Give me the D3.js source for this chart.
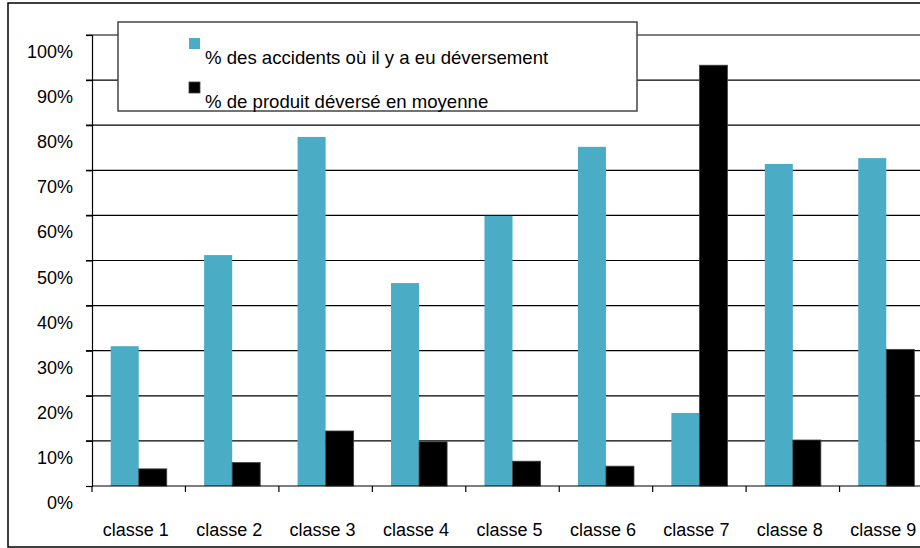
<!DOCTYPE html>
<meta charset="utf-8">
<head>
  <title>Accidents et déversements par classe</title>
  <script src="https://cdn.jsdelivr.net/npm/d3@7"></script>
  <style>
    body { margin: 0; background: #fff; }
    svg text { font-family: "Liberation Sans", Arial, sans-serif; font-size: 18px; fill: #000; }
    .grid line { stroke: #000; stroke-width: 1.2; }
    .legend text { font-size: 18.6px; }
  </style>
</head>
<body>
<div id="chart"></div>
<script>
  // data
  var categories = ["classe 1", "classe 2", "classe 3", "classe 4", "classe 5",
                    "classe 6", "classe 7", "classe 8", "classe 9"];
  var pctAccidents = [31.0, 51.2, 77.4, 45.0, 59.9, 75.2, 16.2, 71.4, 72.7];
  var pctProduit   = [3.8, 5.2, 12.2, 9.8, 5.5, 4.4, 93.3, 10.2, 30.3];
  var seriesNames = ["% des accidents où il y a eu déversement", "% de produit déversé en moyenne"];
  var seriesColors = ["#4bacc6", "#000000"];
  var yTicks = [0, 10, 20, 30, 40, 50, 60, 70, 80, 90, 100];

  var w = 920, h = 548;
  // plot area (right side runs past the window, as in the original)
  var pl = 92, pr = 933, pt = 35, pb = 486;

  var svg = d3.select("#chart").append("svg")
    .attr("width", w).attr("height", h);

  // outer frame
  svg.append("rect")
    .attr("x", 8).attr("y", 3).attr("width", 960).attr("height", 544)
    .attr("fill", "none").attr("stroke", "#000").attr("stroke-width", 1.5);

  var x = d3.scaleBand().domain(categories).range([pl, pr]);
  var y = d3.scaleLinear().domain([0, 100]).range([pb, pt]);
  var barW = x.bandwidth() * 0.3;

  // gridlines
  svg.append("g").attr("class", "grid")
    .selectAll("line").data(yTicks.filter(function(d){ return d > 0; }))
    .enter().append("line")
    .attr("x1", pl - 6).attr("x2", w)
    .attr("y1", function(d){ return y(d); })
    .attr("y2", function(d){ return y(d); });

  // bars
  var rows = categories.map(function(c, i){ return {cat: c, vals: [pctAccidents[i], pctProduit[i]]}; });
  var groups = svg.append("g").selectAll("g").data(rows).enter().append("g");
  groups.selectAll("rect")
    .data(function(d){ return d.vals.map(function(v, j){ return {cat: d.cat, v: v, j: j}; }); })
    .enter().append("rect")
    .attr("x", function(d){ return x(d.cat) + x.bandwidth() / 2 - barW + d.j * barW; })
    .attr("y", function(d){ return y(d.v); })
    .attr("width", barW)
    .attr("height", function(d){ return pb - y(d.v); })
    .attr("fill", function(d){ return seriesColors[d.j]; })
    .attr("stroke", function(d){ return d.j == 1 ? "#444" : "none"; })
    .attr("stroke-width", 0.8);

  // axes
  var yAxis = d3.axisLeft(y).tickValues(yTicks).tickSize(6).tickFormat(function(d){ return d + "%"; });
  var gy = svg.append("g").attr("transform", "translate(" + pl + ",0)").call(yAxis);
  gy.select(".domain").attr("stroke", "#000").attr("stroke-width", 1.2);
  gy.selectAll(".tick line").attr("stroke", "#000").attr("stroke-width", 1.2);
  gy.selectAll(".tick text")
    .attr("x", -19).attr("dy", "1.25em")
    .style("font-size", "18px").style("font-family", "Liberation Sans, Arial, sans-serif");

  svg.append("line")
    .attr("x1", pl).attr("x2", w).attr("y1", pb).attr("y2", pb)
    .attr("stroke", "#000").attr("stroke-width", 1.2);
  svg.append("g").selectAll("line")
    .data(categories.concat(["end"]))
    .enter().append("line")
    .attr("x1", function(d, i){ return pl + i * x.step(); })
    .attr("x2", function(d, i){ return pl + i * x.step(); })
    .attr("y1", pb).attr("y2", pb + 6)
    .attr("stroke", "#000").attr("stroke-width", 1.2);
  svg.append("g").selectAll("text").data(categories).enter().append("text")
    .attr("x", function(d){ return x(d) + x.bandwidth() / 2 - 3; })
    .attr("y", 536)
    .attr("text-anchor", "middle")
    .text(function(d){ return d; });

  // legend
  var lg = svg.append("g").attr("class", "legend");
  lg.append("rect")
    .attr("x", 118).attr("y", 22).attr("width", 519).attr("height", 89)
    .attr("fill", "#fff").attr("stroke", "#444").attr("stroke-width", 1.5);
  seriesNames.forEach(function(name, i){
    lg.append("rect")
      .attr("x", 189).attr("y", 38 + i * 44).attr("width", 11).attr("height", 11)
      .attr("fill", seriesColors[i]).attr("stroke", i == 1 ? "#444" : "none").attr("stroke-width", 0.8);
    lg.append("text")
      .attr("x", 205).attr("y", 64 + i * 44)
      .text(name);
  });
</script>
</body>
</html>
